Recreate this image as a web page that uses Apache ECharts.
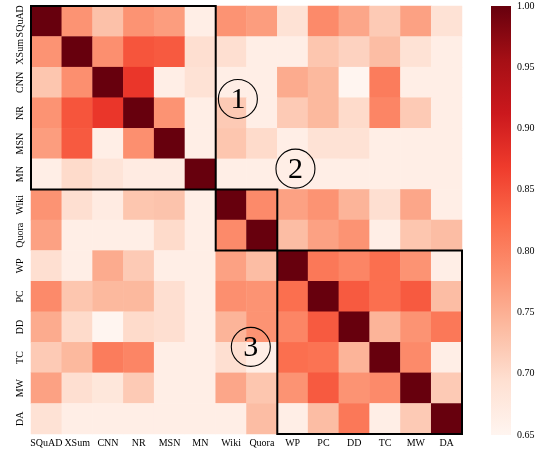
<!DOCTYPE html>
<html><head><meta charset="utf-8">
<script src="https://cdn.jsdelivr.net/npm/echarts@6/dist/echarts.min.js"></script>
<style>html,body{margin:0;padding:0;background:#fff}#c{width:542px;height:453px}</style>
</head><body><div id="c"></div>
<script>
const categories = ['SQuAD','XSum','CNN','NR','MSN','MN','Wiki','Quora','WP','PC','DD','TC','MW','DA'];
const rowSQuAD = [1.0, 0.78, 0.73, 0.78, 0.77, 0.665, 0.78, 0.77, 0.69, 0.79, 0.76, 0.72, 0.765, 0.69];
const rowXSum  = [0.78, 1.0, 0.785, 0.845, 0.84, 0.695, 0.695, 0.665, 0.665, 0.725, 0.71, 0.735, 0.69, 0.665];
const rowCNN   = [0.725, 0.785, 1.0, 0.875, 0.665, 0.69, 0.665, 0.665, 0.755, 0.74, 0.65, 0.805, 0.665, 0.665];
const rowNR    = [0.78, 0.845, 0.875, 1.0, 0.78, 0.665, 0.72, 0.665, 0.72, 0.74, 0.70, 0.795, 0.72, 0.665];
const rowMSN   = [0.77, 0.84, 0.665, 0.785, 1.0, 0.665, 0.725, 0.70, 0.665, 0.69, 0.69, 0.665, 0.665, 0.665];
const rowMN    = [0.665, 0.70, 0.685, 0.67, 0.67, 1.0, 0.665, 0.665, 0.665, 0.665, 0.665, 0.665, 0.665, 0.665];
const rowWiki  = [0.78, 0.695, 0.67, 0.725, 0.728, 0.665, 1.0, 0.79, 0.765, 0.78, 0.745, 0.695, 0.76, 0.665];
const rowQuora = [0.765, 0.665, 0.665, 0.665, 0.70, 0.665, 0.79, 1.0, 0.735, 0.765, 0.78, 0.665, 0.725, 0.735];
const rowWP    = [0.695, 0.665, 0.755, 0.72, 0.665, 0.665, 0.765, 0.735, 1.0, 0.81, 0.795, 0.82, 0.78, 0.665];
const rowPC    = [0.79, 0.725, 0.74, 0.74, 0.695, 0.665, 0.785, 0.78, 0.82, 1.0, 0.84, 0.82, 0.84, 0.735];
const rowDD    = [0.755, 0.70, 0.65, 0.70, 0.695, 0.665, 0.745, 0.78, 0.795, 0.84, 1.0, 0.745, 0.78, 0.81];
const rowTC    = [0.72, 0.74, 0.805, 0.795, 0.665, 0.665, 0.695, 0.665, 0.82, 0.815, 0.745, 1.0, 0.79, 0.665];
const rowMW    = [0.765, 0.695, 0.68, 0.72, 0.665, 0.665, 0.76, 0.725, 0.78, 0.84, 0.78, 0.79, 1.0, 0.72];
const rowDA    = [0.69, 0.665, 0.665, 0.665, 0.665, 0.665, 0.665, 0.735, 0.665, 0.735, 0.81, 0.665, 0.72, 1.0];
const colorbarTicks = [0.65, 0.70, 0.75, 0.80, 0.85, 0.90, 0.95, 1.00];
const groups = [[0,5],[6,7],[8,13]];
const groupLabels = ['1','2','3'];
const groupLabelPos = [[6.22,2.54],[8.09,4.82],[6.64,10.65]];

const rows = [rowSQuAD,rowXSum,rowCNN,rowNR,rowMSN,rowMN,rowWiki,rowQuora,rowWP,rowPC,rowDD,rowTC,rowMW,rowDA];
const data = [];
rows.forEach((r,j)=>r.forEach((v,i)=>data.push([i,j,v])));

const reds = ['#fff5f0','#fee0d2','#fcbba1','#fc9272','#fb6a4a','#ef3b2c','#cb181d','#a50f15','#67000d'];
const vmin = colorbarTicks[0], vmax = colorbarTicks[colorbarTicks.length-1];
const font = 'Liberation Serif';
const chart = echarts.init(document.getElementById('c'));
chart.setOption({
  animation:false,
  textStyle:{fontFamily:font},
  grid:[
    {left:31, top:6, width:431, height:428},
    {left:491, top:6, width:20, height:429}
  ],
  xAxis:[
    {type:'category', data:categories, gridIndex:0, axisLine:{show:false}, axisTick:{show:false}, splitLine:{show:false},
     axisLabel:{fontFamily:font, fontSize:10, color:'#000', margin:4, interval:0}},
    {type:'value', gridIndex:1, show:false, min:0, max:1}
  ],
  yAxis:[
    {type:'category', data:categories, gridIndex:0, inverse:true, axisLine:{show:false}, axisTick:{show:false}, splitLine:{show:false},
     axisLabel:{fontFamily:font, fontSize:10, color:'#000', rotate:90, margin:6, interval:0}},
    {type:'value', gridIndex:1, position:'right', min:vmin, max:vmax, interval:0.05,
     axisLine:{show:false}, axisTick:{show:false}, splitLine:{show:false},
     axisLabel:{fontFamily:font, fontSize:10, color:'#000', margin:6, formatter:v=>v.toFixed(2)}}
  ],
  visualMap:{
    type:'continuous', min:vmin, max:vmax, show:false, seriesIndex:0, inRange:{color:reds}
  },
  series:[
    {type:'heatmap', xAxisIndex:0, yAxisIndex:0, data:data, emphasis:{disabled:true}},
    {type:'line', xAxisIndex:1, yAxisIndex:1, data:[], silent:true}
  ]
});

function drawOverlays(){
  const p0 = chart.convertToPixel({xAxisIndex:0, yAxisIndex:0},[0,0]);
  const p1 = chart.convertToPixel({xAxisIndex:0, yAxisIndex:0},[1,1]);
  const w = p1[0]-p0[0], h = p1[1]-p0[1];
  const els = [];
  // colorbar from the colorbar axis scale
  const cTop = chart.convertToPixel({xAxisIndex:1, yAxisIndex:1},[0,vmax]);
  const cBot = chart.convertToPixel({xAxisIndex:1, yAxisIndex:1},[1,vmin]);
  els.push({type:'rect', shape:{x:cTop[0], y:cTop[1], width:cBot[0]-cTop[0], height:cBot[1]-cTop[1]},
    style:{fill:new echarts.graphic.LinearGradient(0,1,0,0, reds.map((c,k)=>({offset:k/(reds.length-1), color:c})))}, z:50});
  groups.forEach(g=>{
    els.push({type:'rect', shape:{x:p0[0]+(g[0]-0.5)*w, y:p0[1]+(g[0]-0.5)*h, width:(g[1]-g[0]+1)*w, height:(g[1]-g[0]+1)*h},
      style:{fill:'none', stroke:'#000', lineWidth:2}, z:100});
  });
  groupLabelPos.forEach((p,k)=>{
    const cx = p0[0]+p[0]*w, cy = p0[1]+p[1]*h;
    els.push({type:'circle', shape:{cx:cx, cy:cy, r:19.5}, style:{fill:'none', stroke:'#000', lineWidth:1.1}, z:101});
    els.push({type:'text', x:cx, y:cy+1, style:{text:groupLabels[k], font:'30px "Liberation Serif"', fill:'#000', align:'center', verticalAlign:'middle'}, z:101});
  });
  chart.setOption({graphic:els});
}
drawOverlays();
</script></body></html>
